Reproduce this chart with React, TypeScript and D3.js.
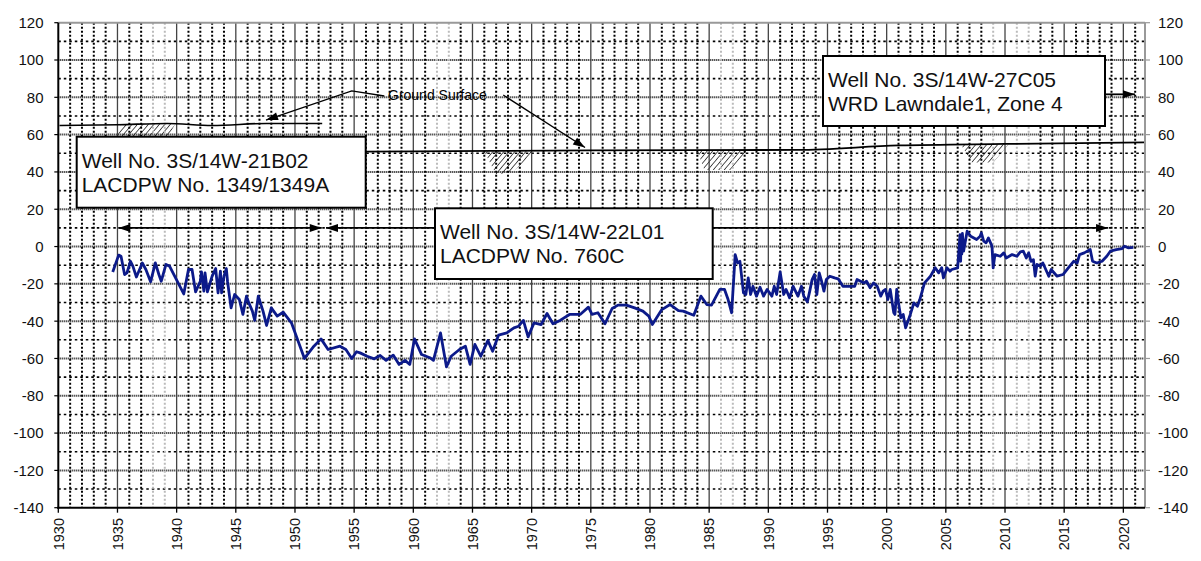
import { useEffect, useRef } from 'react';
import * as d3 from 'd3';

// groundwater elevation (ft)
const years = [
  1934.6, 1935.1, 1935.3, 1935.6, 1935.8, 1936.1, 1936.3, 1936.6, 1937.1, 1937.4, 1937.8, 1938.2, 1938.5,
  1938.7, 1939.1, 1939.4, 1940.6, 1941.0, 1941.3, 1941.6, 1942.0, 1942.1, 1942.3, 1942.4, 1942.6, 1943.0,
  1943.3, 1943.5, 1943.7, 1943.8, 1944.0, 1944.2, 1944.3, 1944.6, 1944.9, 1945.3, 1945.6, 1945.9, 1946.1,
  1946.4, 1946.6, 1946.9, 1947.3, 1947.6, 1948.0, 1948.5, 1949.0, 1949.7, 1950.8, 1951.6, 1952.2, 1952.8,
  1953.8, 1954.3, 1954.8, 1955.2, 1955.5, 1956.1, 1956.7, 1957.2, 1957.7, 1958.3, 1958.8, 1959.3, 1959.7,
  1960.1, 1960.7, 1961.4, 1961.7, 1962.3, 1962.8, 1963.2, 1963.9, 1964.4, 1964.8, 1965.2, 1965.7, 1966.3,
  1966.7, 1967.2, 1967.9, 1968.5, 1968.9, 1969.3, 1969.7, 1970.2, 1970.8, 1971.3, 1971.8, 1972.4, 1973.2,
  1974.1, 1974.8, 1975.1, 1975.6, 1976.2, 1976.8, 1977.3, 1978.0, 1978.7, 1979.4, 1979.9, 1980.2, 1981.0,
  1981.7, 1982.4, 1982.8, 1983.7, 1984.3, 1984.8, 1985.2, 1985.9, 1986.3, 1986.6, 1986.9, 1987.2, 1987.4,
  1987.6, 1987.9, 1988.1, 1988.3, 1988.5, 1988.7, 1989.0, 1989.3, 1989.6, 1989.9, 1990.3, 1990.5, 1990.7,
  1991.0, 1991.3, 1991.5, 1991.8, 1992.1, 1992.5, 1992.8, 1993.0, 1993.3, 1993.5, 1993.7, 1993.9, 1994.1,
  1994.3, 1994.5, 1994.7, 1994.9, 1995.2, 1995.6, 1995.9, 1996.3, 1996.9, 1997.3, 1997.5, 1997.8, 1998.1,
  1998.3, 1998.6, 1998.9, 1999.2, 1999.5, 1999.7, 1999.9, 2000.1, 2000.3, 2000.6, 2000.7, 2000.85, 2001.0,
  2001.2, 2001.4, 2001.6, 2002.0, 2002.3, 2002.6, 2002.8, 2003.2, 2003.7, 2004.1, 2004.4, 2004.65, 2004.8,
  2005.1, 2005.35, 2005.5, 2006.0, 2006.2, 2006.25, 2006.3, 2006.35, 2006.4, 2006.5, 2006.8, 2007.1, 2007.6,
  2007.9, 2008.0, 2008.2, 2008.4, 2008.6, 2008.9, 2009.0, 2009.15, 2009.6, 2009.9, 2010.1, 2010.6, 2011.0,
  2011.3, 2011.55, 2011.8, 2012.0, 2012.2, 2012.4, 2012.55, 2012.7, 2013.0, 2013.2, 2013.7, 2013.9, 2014.4,
  2014.9, 2015.35, 2015.8, 2016.1, 2016.3, 2016.7, 2017.2, 2017.4, 2017.75, 2018.2, 2018.6, 2018.9, 2019.4,
  2019.9, 2020.1, 2020.4, 2020.85,
];
const levels = [
  -13.6, -4.6, -5.2, -15, -14.1, -7.9, -10.5, -16.3, -8.8, -12.3, -18.9, -8.8, -15,
  -18.6, -9.6, -10.5, -25.4, -12.3, -12.3, -24.3, -18.6, -13.6, -23.9, -14.1, -24.3, -15.9,
  -11.8, -24.8, -13.2, -24.8, -15.9, -11.8, -18.6, -32.9, -25.7, -28.4, -36.4, -26.6, -30.2,
  -34.6, -39.6, -26.6, -34.6, -42.3, -32.9, -37.3, -35.2, -40.9, -60, -53.4, -49.5, -55.2,
  -53.4, -55.2, -60, -56.4, -57, -58.8, -60.2, -58.4, -61, -58.2, -63.2, -61, -63.2,
  -49.5, -57.9, -59.6, -61, -46.3, -64.5, -58.8, -55.2, -53.4, -63.2, -52.5, -58.8, -50.4,
  -56.1, -47.5, -46.3, -43.6, -42.7, -39.6, -48.4, -40.9, -41.8, -35.9, -41.4, -39.6, -36.4,
  -36.4, -32.5, -36.4, -35.5, -41.4, -33.2, -31.4, -31.4, -32.9, -34.6, -37.3, -41.8, -33.8,
  -31.1, -34.3, -34.6, -36.8, -26.6, -31.1, -31.4, -23, -23, -28.4, -35.5, -4.3, -8.8,
  -7.9, -24.8, -25.7, -16.8, -25.7, -21.3, -26.6, -21.8, -26.6, -23, -26.6, -21.3, -25.7,
  -13.6, -25.7, -23, -27.5, -21.3, -26.6, -21.3, -26.6, -29.6, -23.9, -17.7, -15, -25.7,
  -14.1, -18.6, -23.9, -17.7, -15.9, -16.8, -17.3, -21.3, -21.3, -21.3, -17.7, -18.6, -19.5,
  -18.6, -22.1, -19.5, -21.3, -26.6, -23.9, -23, -28.4, -23, -35.5, -36.4, -23, -30.2,
  -38.2, -36.4, -43.6, -36.4, -30.2, -32, -28.4, -19.5, -15.9, -11.4, -14.1, -11.4, -16.8,
  -11.4, -13.2, -12.3, -11.4, 6.4, -7.9, 6.4, -4, 7, -2.5, 8.2, 5.5, 3.8,
  5.5, 7.3, 2.9, 2, 4.6, 0.2, -11.4, -4.3, -5.2, -3.4, -6.1, -4.3, -5.2,
  -2.9, -2.5, -6.1, -3.4, -7.9, -7, -15.9, -9.6, -10.5, -8.8, -15.9, -12.3, -15.9,
  -15, -11.4, -7.9, -8.8, -4.3, -3.4, -1.6, -7.9, -8.8, -7.9, -5.2, -2.5, -1.6,
  -1.1, 0.2, -0.7, -0.4,
];

// ground surface traces
const groundWestYears = [1930.1, 1935, 1939.2, 1943, 1947.6, 1952.3];
const groundWestLevels = [64.9, 65.3, 66, 64.9, 66, 66];
const groundEastYears = [1952.3, 1960, 1975, 1992.5, 2001, 2010, 2021.83];
const groundEastLevels = [50.8, 51, 51.6, 51.8, 54.2, 55, 55.8];

// hatched fill below ground surface, [year, level] corners
const hatchAreas = [
  [[1935.3, 65.3], [1939.9, 65.9], [1939.3, 59], [1935.0, 59]],
  [[1966.0, 51], [1970.3, 51.2], [1968.4, 40], [1967.0, 38.5]],
  [[1984.0, 51.3], [1988.2, 51.4], [1986.8, 41], [1984.6, 41]],
  [[2006.3, 54.5], [2010.3, 54.9], [2009.0, 45], [2007.2, 45]],
];

const yTickValues = [-140, -120, -100, -80, -60, -40, -20, 0, 20, 40, 60, 80, 100, 120];
const xTickYears = [1930, 1935, 1940, 1945, 1950, 1955, 1960, 1965, 1970, 1975, 1980, 1985, 1990, 1995, 2000, 2005, 2010, 2015, 2020];

// well record spans (double arrows at elevation 10)
const recordSpans = [[1935.07, 1952.26], [1952.62, 2018.71]];
const fadedYears = [1938, 1939, 1962, 1963, 1986, 1987, 2009, 2011, 2012];

const wellLabels = [
  ['Well No. 3S/14W-21B02', 'LACDPW No. 1349/1349A'],
  ['Well No. 3S/14W-22L01', 'LACDPW No. 760C'],
  ['Well No. 3S/14W-27C05', 'WRD Lawndale1, Zone 4'],
];

const App = () => {
  const svgRef = useRef<SVGSVGElement>(null);

  useEffect(() => {
    const svg = d3.select(svgRef.current);
    svg.selectAll('*').remove();

    const left = 58.3, right = 1145, top = 22.7, bottom = 507.7;
    const x = d3.scaleLinear().domain([1930, 2021.83]).range([left, right]);
    const y = d3.scaleLinear().domain([-140, 120]).range([bottom, top]);

    svg.append('rect').attr('width', 1201).attr('height', 561).attr('fill', '#fff');

    // hatch pattern
    const defs = svg.append('defs');
    const pat = defs.append('pattern')
      .attr('id', 'hatch')
      .attr('width', 4.2).attr('height', 4.2)
      .attr('patternUnits', 'userSpaceOnUse')
      .attr('patternTransform', 'rotate(40)');
    pat.append('line').attr('x1', 0).attr('y1', 0).attr('x2', 0).attr('y2', 4.2)
      .attr('stroke', '#000').attr('stroke-width', 1.3);

    hatchAreas.forEach(area => {
      svg.append('polygon')
        .attr('points', area.map(([yr, lv]) => `${x(yr)},${y(lv)}`).join(' '))
        .attr('fill', 'url(#hatch)');
    });

    // grid
    const grid = svg.append('g');
    for (let v = -130; v <= 110; v += 20) {
      grid.append('line')
        .attr('x1', left).attr('x2', right).attr('y1', y(v)).attr('y2', y(v))
        .attr('stroke', '#000').attr('stroke-width', 1.6).attr('stroke-dasharray', '2.5,3');
    }
    for (let v = -120; v <= 100; v += 20) {
      grid.append('line')
        .attr('x1', left).attr('x2', right).attr('y1', y(v)).attr('y2', y(v))
        .attr('stroke', '#111').attr('stroke-width', 2).attr('stroke-dasharray', '1,1');
    }
    for (let yr = 1931; yr <= 2021; yr++) {
      if (yr % 5 === 0) continue;
      grid.append('line')
        .attr('x1', x(yr)).attr('x2', x(yr)).attr('y1', top).attr('y2', bottom)
        .attr('stroke', fadedYears.includes(yr) ? '#bbb' : '#000')
        .attr('stroke-width', 2).attr('stroke-dasharray', '2,2');
    }
    xTickYears.slice(1).forEach(yr => {
      grid.append('line')
        .attr('x1', x(yr)).attr('x2', x(yr)).attr('y1', top).attr('y2', bottom)
        .attr('stroke', '#444').attr('stroke-width', 1.3);
    });

    // ground surface
    const line = d3.line<[number, number]>().x(d => x(d[0])).y(d => y(d[1])).curve(d3.curveMonotoneX);
    svg.append('path')
      .attr('d', line(groundWestYears.map((yr, i) => [yr, groundWestLevels[i]])))
      .attr('fill', 'none').attr('stroke', '#000').attr('stroke-width', 1.6);
    svg.append('path')
      .attr('d', line(groundEastYears.map((yr, i) => [yr, groundEastLevels[i]])))
      .attr('fill', 'none').attr('stroke', '#000').attr('stroke-width', 1.8);

    // arrow helper
    const arrow = (pts: [number, number][], heads: 'end' | 'both', width = 1.6) => {
      svg.append('path')
        .attr('d', 'M' + pts.map(p => p.join(',')).join('L'))
        .attr('fill', 'none').attr('stroke', '#000').attr('stroke-width', width);
      const head = (tip: [number, number], from: [number, number]) => {
        const a = Math.atan2(tip[1] - from[1], tip[0] - from[0]);
        const len = 12, hw = 4;
        const bx = tip[0] - len * Math.cos(a), by = tip[1] - len * Math.sin(a);
        const p1 = [bx + hw * Math.sin(a), by - hw * Math.cos(a)];
        const p2 = [bx - hw * Math.sin(a), by + hw * Math.cos(a)];
        svg.append('polygon')
          .attr('points', `${tip[0]},${tip[1]} ${p1[0]},${p1[1]} ${p2[0]},${p2[1]}`)
          .attr('fill', '#000');
      };
      head(pts[pts.length - 1], pts[pts.length - 2]);
      if (heads === 'both') head(pts[0], pts[1]);
    };

    recordSpans.forEach(([a, b]) => arrow([[x(a), y(10)], [x(b), y(10)]], 'both', 1.8));
    arrow([[x(2018.5), y(81.6)], [x(2020.98), y(81.6)]], 'end', 1.8);

    // Ground Surface annotation
    svg.append('text')
      .attr('x', 388).attr('y', 100)
      .attr('font-size', 14)
      .attr('fill', '#000')
      .text('Ground Surface');
    arrow([[x(1957.55), y(80.7)], [x(1954.8), y(83.4)], [x(1947.55), y(67.8)]], 'end', 1.3);
    arrow([[x(1967.6), y(81.2)], [x(1974.51), y(53.1)]], 'end', 1.3);

    // label boxes
    const boxes = [
      { bx: 76.7, by: 136.7, bw: 289, bh: 71 },
      { bx: 435, by: 208.3, bw: 277.7, bh: 70.7 },
      { bx: 823, by: 56, bw: 282, bh: 70 },
    ];
    boxes.forEach((b, i) => {
      svg.append('rect')
        .attr('x', b.bx).attr('y', b.by).attr('width', b.bw).attr('height', b.bh)
        .attr('fill', '#fff').attr('stroke', '#000').attr('stroke-width', 2);
      wellLabels[i].forEach((t, j) => {
        svg.append('text')
          .attr('x', b.bx + 5).attr('y', b.by + 31 + j * 24)
          .attr('font-size', 21)
          .attr('fill', '#111')
          .text(t);
      });
    });

    // water level series
    svg.append('path')
      .attr('d', d3.line<number>().x(d => x(d)).y((_, i) => y(levels[i]))(years))
      .attr('fill', 'none')
      .attr('stroke', '#0c1a8a')
      .attr('stroke-width', 2.8)
      .attr('stroke-linejoin', 'round');

    // frame
    svg.append('line').attr('x1', left).attr('x2', right).attr('y1', top).attr('y2', top)
      .attr('stroke', '#999').attr('stroke-width', 2);
    svg.append('line').attr('x1', right).attr('x2', right).attr('y1', top).attr('y2', bottom)
      .attr('stroke', '#999').attr('stroke-width', 2);
    svg.append('line').attr('x1', left).attr('x2', left).attr('y1', top).attr('y2', bottom + 1)
      .attr('stroke', '#000').attr('stroke-width', 2);
    svg.append('line').attr('x1', left - 1).attr('x2', right).attr('y1', bottom).attr('y2', bottom)
      .attr('stroke', '#000').attr('stroke-width', 2);

    // y ticks and labels both sides
    yTickValues.forEach(v => {
      svg.append('line').attr('x1', left - 4).attr('x2', left).attr('y1', y(v)).attr('y2', y(v))
        .attr('stroke', '#000').attr('stroke-width', 1.2);
      svg.append('line').attr('x1', right).attr('x2', right + 5).attr('y1', y(v)).attr('y2', y(v))
        .attr('stroke', '#999').attr('stroke-width', 1.2);
      svg.append('text')
        .attr('x', 43.5).attr('y', y(v)).attr('dy', '0.36em')
        .attr('text-anchor', 'end').attr('font-size', 15).attr('fill', '#111')
        .text(v);
      svg.append('text')
        .attr('x', 1158).attr('y', y(v)).attr('dy', '0.36em')
        .attr('text-anchor', 'start').attr('font-size', 15).attr('fill', '#111')
        .text(v);
    });

    // x ticks and rotated labels
    xTickYears.forEach(yr => {
      svg.append('line').attr('x1', x(yr)).attr('x2', x(yr)).attr('y1', bottom).attr('y2', bottom + 5)
        .attr('stroke', '#000').attr('stroke-width', 1.3);
      svg.append('text')
        .attr('transform', `translate(${x(yr)},518) rotate(-90)`)
        .attr('dy', '0.36em')
        .attr('text-anchor', 'end').attr('font-size', 14.5).attr('fill', '#111')
        .text(yr);
    });
  }, []);

  return (
    <svg
      ref={svgRef}
      width={1201}
      height={561}
      style={{ position: 'absolute', left: 0, top: 0, fontFamily: '"Liberation Sans", Arial, sans-serif' }}
    />
  );
};

export default App;
